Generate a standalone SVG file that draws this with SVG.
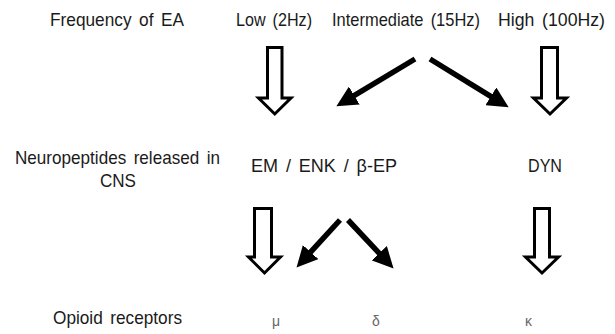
<svg xmlns="http://www.w3.org/2000/svg" width="615" height="334" viewBox="0 0 615 334">
<style>
  text { font-family: "Liberation Sans", Arial, sans-serif; font-size: 19px; fill: #1a1a1a; word-spacing: 3px; }
  .greek { font-size: 14px; fill: #666; }
  .hollow { fill: #fff; stroke: #000; stroke-width: 3; stroke-linejoin: miter; }
  .solid { stroke: #000; stroke-width: 5.5; fill: none; marker-end: url(#head); }
</style>
<defs>
  <marker id="head" viewBox="0 0 10 10" refX="2" refY="5" markerWidth="3.8" markerHeight="3.8" orient="auto" markerUnits="strokeWidth">
    <path d="M0,0 L10,5 L0,10 z" fill="#000"/>
  </marker>
</defs>
<rect width="615" height="334" fill="#fff"/>
<g id="labels">
  <text x="50" y="26" textLength="134" lengthAdjust="spacingAndGlyphs">Frequency of EA</text>
  <text x="15" y="164" textLength="205" lengthAdjust="spacingAndGlyphs">Neuropeptides released in</text>
  <text x="100" y="187" textLength="36" lengthAdjust="spacingAndGlyphs">CNS</text>
  <text x="53" y="324" textLength="129" lengthAdjust="spacingAndGlyphs">Opioid receptors</text>
</g>
<g id="node-low"><text x="236" y="26" textLength="76" lengthAdjust="spacingAndGlyphs">Low (2Hz)</text></g>
<g id="node-intermediate"><text x="332" y="26" textLength="148" lengthAdjust="spacingAndGlyphs">Intermediate (15Hz)</text></g>
<g id="node-high"><text x="498" y="26" textLength="107" lengthAdjust="spacingAndGlyphs">High (100Hz)</text></g>
<g id="node-em-enk-ep"><text x="251" y="172" textLength="146" lengthAdjust="spacingAndGlyphs">EM / ENK / β-EP</text></g>
<g id="node-dyn"><text x="528" y="172" textLength="34" lengthAdjust="spacingAndGlyphs">DYN</text></g>
<g id="node-mu"><text class="greek" x="272" y="326">μ</text></g>
<g id="node-delta"><text class="greek" x="372" y="326">δ</text></g>
<g id="node-kappa"><text class="greek" x="525" y="326">κ</text></g>
<g id="connectors">
  <path class="hollow" d="M267.5,47.5 H282 V98 H291 L274.75,114 L258.5,98 H267.5 Z"/>
  <path class="hollow" d="M541.5,47.5 H557.5 V98 H566.5 L550,114 L533.5,98 H541.5 Z"/>
  <path class="hollow" d="M254.5,208.5 H271.5 V257 H280.5 L264.5,273 L248.5,257 H254.5 Z"/>
  <path class="hollow" d="M534.5,208.5 H549.5 V257 H558.5 L542,273 L525.5,257 H534.5 Z"/>
  <line class="solid" x1="415" y1="59" x2="350.7" y2="97.7"/>
  <line class="solid" x1="430" y1="59" x2="494.4" y2="98.6"/>
  <line class="solid" x1="340" y1="220" x2="307.8" y2="255.2"/>
  <line class="solid" x1="348" y1="220" x2="382.1" y2="256.3"/>
</g>
</svg>
